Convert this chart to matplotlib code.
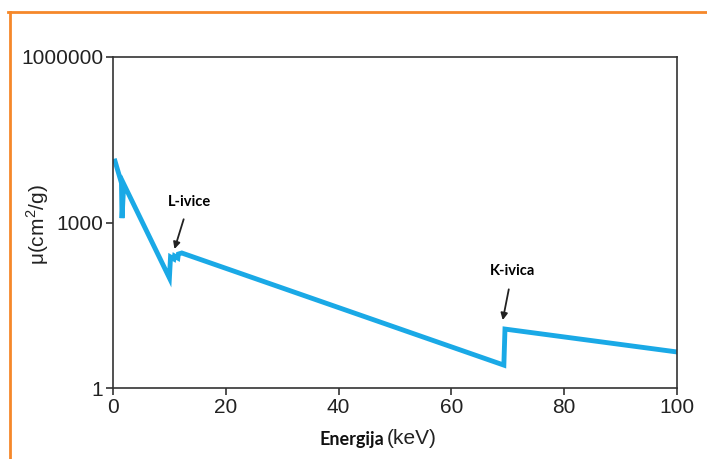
import matplotlib
matplotlib.use("Agg")
import matplotlib.pyplot as plt
from matplotlib.lines import Line2D

# --- Данные ---
energy = [0.35, 1.5, 1.6, 1.9, 10.0, 10.2, 10.8, 10.9, 11.5, 11.6, 12.2, 69.3, 69.5, 100.0]
mu = [13000, 5200, 1200, 5000, 99, 237, 218, 247, 227, 268, 280, 2.6, 11.7, 4.5]

xticks = [0, 20, 40, 60, 80, 100]
yticks = [1, 1000, 1000000]
ytick_labels = ["1", "1000", "1000000"]

W, H = 707, 459
plt.rcParams['font.family'] = ['Liberation Sans', 'DejaVu Sans']
plt.rcParams['mathtext.fontset'] = 'custom'
plt.rcParams['mathtext.rm'] = 'Liberation Sans'

fig = plt.figure(figsize=(W / 100, H / 100), dpi=100)
ax = fig.add_axes([113 / W, 1 - 388 / H, (677 - 113) / W, (388 - 57) / H])

ax.plot(energy, mu, color='#1AA9E6', linewidth=3.5, solid_joinstyle='miter')
ax.set_yscale('log')
ax.set_xlim(0, 100)
ax.set_ylim(1, 1e6)
ax.set_xticks(xticks)
ax.set_xticklabels([str(t) for t in xticks])
ax.set_yticks(yticks)
ax.set_yticklabels(ytick_labels)
ax.minorticks_off()
ax.tick_params(direction='out', length=5, width=1.2, labelsize=15, color='#333333',
               labelcolor='#222222', pad=2)
for s in ax.spines.values():
    s.set_color('#333333')
    s.set_linewidth(1.2)

# --- Подписи краёв поглощения ---
ax.annotate("L-ivice", xy=(10.9, 330), xytext=(13.5, 2400), ha='center', va='center',
            fontsize=10.5, fontweight='bold', family='Lato',
            arrowprops=dict(arrowstyle='-|>', color='#222222', lw=1.3, mutation_scale=10,
                            shrinkA=6, shrinkB=0))
ax.annotate("K-ivica", xy=(69.1, 17), xytext=(70.8, 130), ha='center', va='center',
            fontsize=10.5, fontweight='bold', family='Lato',
            arrowprops=dict(arrowstyle='-|>', color='#222222', lw=1.3, mutation_scale=10,
                            shrinkA=6, shrinkB=0))

# --- Подписи осей ---
fig.text(384 / W, 1 - 439 / H, "Energija", ha='right', va='center', fontsize=13,
         fontweight='bold', family='Lato', color='#111111')
fig.text(387 / W, 1 - 439 / H, "(keV)", ha='left', va='center', fontsize=15, color='#222222')
fig.text(38 / W, 1 - 225 / H, r"μ(cm$^{2}$/g)", ha='center', va='center', rotation=90,
         fontsize=15, color='#222222')

# --- Оранжевая рамка ---
orange = '#F5882A'
fig.add_artist(Line2D([8 / W, 1.0], [1 - 12 / H, 1 - 12 / H], color=orange, lw=2,
                      transform=fig.transFigure))
fig.add_artist(Line2D([10 / W, 10 / W], [1 - 12 / H, 0], color=orange, lw=2,
                      transform=fig.transFigure))

fig.savefig("out.png", dpi=100)
